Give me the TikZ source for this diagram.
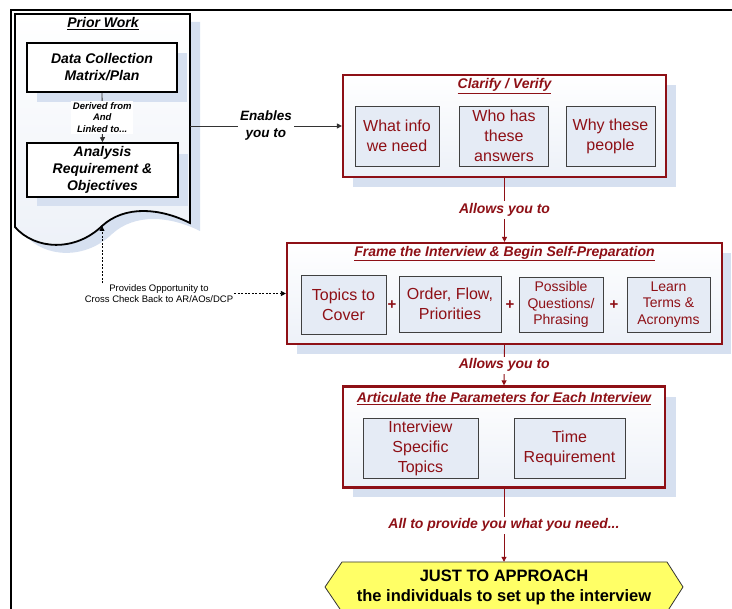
\documentclass[tikz,border=0pt]{standalone}
\usepackage{fontspec}
\setmainfont{Liberation Sans}
\usetikzlibrary{arrows.meta}
\definecolor{dred}{HTML}{8E1016}
\definecolor{shad}{HTML}{D6E0F0}
\definecolor{innerfill}{HTML}{E5EBF5}
\definecolor{bigfill}{HTML}{EDF1F8}
\definecolor{hexyellow}{HTML}{FFFF66}
\newcommand{\thickul}[1]{\underline{#1}}
\begin{document}
\begin{tikzpicture}[x=1pt,y=-1pt,
  bigbox/.style={draw=dred, line width=2.2pt, top color=white, bottom color=bigfill},
  ibox/.style={draw=black!75, line width=0.8pt, fill=innerfill, align=center, text=dred,
    font=\fontsize{16}{20}\selectfont, inner sep=1pt},
  sbox/.style={ibox, font=\fontsize{14}{16.5}\selectfont},
  docbox/.style={draw=black, line width=1.8pt, fill=white, align=center,
    font=\fontsize{14}{17}\selectfont\bfseries\itshape},
  bigtitle/.style={text=dred, font=\fontsize{14}{16}\selectfont\bfseries\itshape},
  redlab/.style={fill=white, text=dred, font=\fontsize{14}{16}\selectfont\bfseries\itshape, inner sep=2pt},
  redarrow/.style={draw=dred, line width=0.9pt, -{Triangle[length=5pt,width=5pt]}},
  blackarrow/.style={draw=black!80, line width=0.9pt, -{Triangle[length=5pt,width=5pt]}},
  plussign/.style={text=dred, font=\fontsize{15}{15}\selectfont\bfseries},
  dashedarrow/.style={draw=black, line width=0.8pt, dash pattern=on 2pt off 1.5pt, -{Triangle[length=5pt,width=5pt]}}
]
\useasboundingbox (0,0) rectangle (732,609);
\fill[white] (0,0) rectangle (732,609);

% outer frame lines
\draw[line width=1.6pt] (11,609) -- (11,10) -- (732,10);

% ---------- Prior work document ----------
\fill[shad] (25,22) -- (200,22) -- (200,231)
  .. controls (170,216) and (135,213) .. (112,234)
  .. controls (85,260) and (45,258) .. (25,235) -- cycle;
\path[draw=black, line width=1.8pt, top color=white, bottom color=bigfill]
  (15,14) -- (190,14) -- (190,223)
  .. controls (160,208) and (125,205) .. (102,226)
  .. controls (75,252) and (35,250) .. (15,227) -- cycle;
\coordinate (wave) at (102,226);
\coordinate (docR) at (190,126);
\node[font=\fontsize{14}{16}\selectfont\bfseries\itshape] (prior) at (103,24) {\thickul{Prior Work}};

\fill[shad] (37,53) rectangle (187,102);
\fill[shad] (37,154) rectangle (188,206);
\node[docbox, minimum width=150pt, minimum height=49pt] (dcm) at (102,67.5) {Data Collection\\Matrix/Plan};
\node[docbox, minimum width=151pt, minimum height=52pt] (ar) at (102.5,170) {Analysis\\Requirement \&\\Objectives};
\draw[blackarrow] (dcm.south) -- (ar.north)
  node[midway, fill=white, align=center, inner sep=1.5pt, font=\fontsize{9.5}{11.5}\selectfont\bfseries\itshape] (derived) {Derived from\\And\\Linked to...};

% ---------- Clarify / Verify ----------
\fill[shad] (353,85) rectangle (676,187);
\node[bigbox, minimum width=323pt, minimum height=102pt] (clar) at (504.5,126) {};
\node[bigtitle] (clart) at (504.5,86) {\thickul{Clarify / Verify}};
\node[ibox, minimum width=84pt, minimum height=60pt] (c1) at (397,136) {What info\\we need};
\node[ibox, minimum width=89pt, minimum height=60pt] (c2) at (504,136) {Who has\\these\\answers};
\node[ibox, minimum width=89pt, minimum height=60pt] (c3) at (610.5,136) {Why these\\people};

\draw[blackarrow] (docR) -- (clar.west)
  node[midway, fill=white, align=center, inner sep=2pt, font=\fontsize{13.5}{17}\selectfont\bfseries\itshape] (enab) {Enables\\you to};

% ---------- Frame the Interview ----------
\fill[shad] (297,253) rectangle (731,354);
\node[bigbox, minimum width=435pt, minimum height=101pt] (frame) at (504.5,293.5) {};
\node[bigtitle] (framet) at (504.5,253.5) {\thickul{Frame the Interview \& Begin Self-Preparation}};
\node[ibox, minimum width=85pt, minimum height=59pt] (t1) at (343.5,304.5) {Topics to\\Cover};
\node[ibox, minimum width=102pt, minimum height=56pt] (t2) at (450,304) {Order, Flow,\\Priorities};
\node[sbox, minimum width=84pt, minimum height=55pt] (t3) at (561,304.5) {Possible\\Questions/\\Phrasing};
\node[sbox, minimum width=83pt, minimum height=55pt] (t4) at (668.5,304.5) {Learn\\Terms \&\\Acronyms};
\node[plussign] (p1) at (392,305) {+};
\node[plussign] (p2) at (510,305) {+};
\node[plussign] (p3) at (614,305) {+};

\draw[redarrow] (clar.south) -- (frame.north) node[midway, redlab] (al1) {Allows you to};

% ---------- Articulate ----------
\fill[shad] (353,397) rectangle (676,497);
\node[bigbox, minimum width=322pt, minimum height=101pt] (art) at (504,437) {};
\node[bigtitle] (artt) at (504,398.5) {\thickul{Articulate the Parameters for Each Interview}};
\node[ibox, minimum width=115pt, minimum height=60pt] (a1) at (420.5,448) {Interview\\Specific\\Topics};
\node[ibox, minimum width=111pt, minimum height=60pt] (a2) at (569.5,448) {Time\\Requirement};

\draw[redarrow] (frame.south) -- (art.north) node[midway, redlab] (al2) {Allows you to};

% ---------- Hexagon ----------
\path[draw=black!80, line width=0.8pt, fill=hexyellow]
  (342,562) -- (667,562) -- (683,587) -- (667,612) -- (342,612) -- (325,587) -- cycle;
\node[minimum height=50pt, minimum width=300pt, align=center, inner sep=0pt,
  font=\fontsize{16.5}{20}\selectfont\bfseries] (hex) at (504,587)
  {JUST TO APPROACH\\the individuals to set up the interview};

\draw[redarrow] (art.south) -- (hex.north) node[midway, redlab] (al3) {All to provide you what you need...};

% ---------- cross check ----------
\node[align=center, inner sep=1pt, font=\fontsize{9.5}{11.5}\selectfont] (prov) at (159,293.5)
  {Provides Opportunity to\\Cross Check Back to AR/AOs/DCP};
\draw[dashedarrow] (prov.north -| wave) -- (wave);
\draw[dashedarrow] (prov.east) -- (frame.west);
\end{tikzpicture}
\end{document}
